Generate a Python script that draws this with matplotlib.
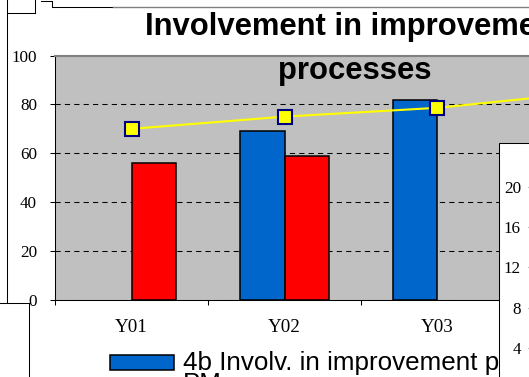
import numpy as np
import matplotlib
matplotlib.use("Agg")
import matplotlib.pyplot as plt
from matplotlib.lines import Line2D
from matplotlib.patches import Rectangle
from matplotlib.transforms import Bbox

# ---- data -------------------------------------------------------------
categories = ["Y01", "Y02", "Y03", "Y04"]
pm_values = [np.nan, 69, 82, np.nan]          # blue bars
other_values = [56, 59, np.nan, np.nan]       # red bars
target_values = [70, 75, 78.6, 85]            # yellow line
y_ticks = [0, 20, 40, 60, 80, 100]
side_ticks = [4, 8, 12, 16, 20]
title = "Involvement in improvement\nprocesses"
legend_label = "4b Involv. in improvement processes -\nPM"

# ---- style ------------------------------------------------------------
W, H = 529, 377
BLUE = "#0066CC"
RED = "#FF0000"
YELLOW = "#FFFF00"
NAVY = "#000080"
PLOT_BG = "#C0C0C0"
SANS = "Liberation Sans"
SERIF = "Liberation Serif"


def fx(px):
    return px / W


def fy(py):
    return 1 - py / H


def pt(px):
    return px * 72 / 100


fig = plt.figure(figsize=(W / 100, H / 100), dpi=100)
fig.patch.set_facecolor("white")

# ---- main chart -------------------------------------------------------
ax = fig.add_axes([fx(55), fy(300), 612 / W, 244.5 / H], zorder=1)
ax.set_facecolor(PLOT_BG)
x = np.arange(len(categories))
bw = 0.29
ax.bar(x - bw / 2, pm_values, bw, color=BLUE, edgecolor="black",
       linewidth=1.1, zorder=2)
ax.bar(x + bw / 2, other_values, bw, color=RED, edgecolor="black",
       linewidth=1.1, zorder=2)
ax.plot(x, target_values, color=YELLOW, lw=1.5, marker="s", ms=10,
        mfc=YELLOW, mec=NAVY, mew=1.5, zorder=3, clip_on=False)

ax.set_xlim(-0.5, len(categories) - 0.5)
ax.set_ylim(0, 100)
ax.set_axisbelow(True)
ax.yaxis.grid(True, color="black", linestyle=(0, (5, 4)), lw=0.75)
ax.set_yticks(y_ticks)
ax.set_yticklabels([str(v) for v in y_ticks], family=SERIF,
                   fontsize=pt(17))
ax.tick_params(axis="y", direction="out", length=pt(5), width=0.75,
               pad=pt(13), colors="black")

ax.set_xticks(np.arange(len(categories) + 1) - 0.5)
ax.set_xticklabels([])
ax.set_xticks(x, minor=True)
ax.set_xticklabels(categories, minor=True, family=SERIF, fontsize=pt(19))
ax.tick_params(axis="x", which="major", direction="out", length=pt(5),
               width=0.75)
ax.tick_params(axis="x", which="minor", length=0, pad=pt(18.5))

for side in ("left", "bottom"):
    ax.spines[side].set_color("black")
    ax.spines[side].set_linewidth(0.75)
ax.spines["top"].set_color("#808080")
ax.spines["top"].set_linewidth(1.5)
ax.spines["right"].set_visible(False)

# ---- title ------------------------------------------------------------
fig.text(fx(355), fy(12.4), title, ha="center", va="top", family=SANS,
         fontweight="bold", fontsize=pt(31), linespacing=1.59,
         multialignment="center", zorder=4)

# ---- legend (first entry) ---------------------------------------------
fig.add_artist(Rectangle((fx(110), fy(370)), 64 / W, 15 / H,
                         transform=fig.transFigure, facecolor=BLUE,
                         edgecolor="black", lw=1.1, zorder=3))
leg_text = fig.text(fx(183), fy(351), legend_label, ha="left", va="top",
                    family=SANS, fontsize=pt(26), linespacing=0.85,
                    zorder=3)
leg_text.set_clip_box(Bbox.from_extents(0, 0, 499, H))
leg_text.set_clip_on(True)

# ---- surrounding frame lines ------------------------------------------
frame_segments = [
    ((7, 0), (7, 302.7)),
    ((7, 13), (35, 13)),
    ((35, 0), (35, 13)),
    ((41, 1), (52, 1)),
    ((52, 1), (52, 7)),
    ((0, 302.7), (29, 302.7)),
    ((29, 302.7), (29, 377)),
]
for (x0, y0), (x1, y1) in frame_segments:
    fig.add_artist(Line2D([fx(x0), fx(x1)], [fy(y0), fy(y1)],
                          transform=fig.transFigure, color="black",
                          lw=0.75, zorder=2))
fig.add_artist(Line2D([fx(52), fx(113)], [fy(7), fy(7)],
                      transform=fig.transFigure, color="black", lw=0.75,
                      zorder=2))
fig.add_artist(Line2D([fx(113), fx(529)], [fy(7), fy(7)],
                      transform=fig.transFigure, color="#808080", lw=1.0,
                      zorder=2))

# ---- overlapping side chart -------------------------------------------
fig.add_artist(Rectangle((fx(499), fy(400)), 60 / W, (400 - 143) / H,
                         transform=fig.transFigure, facecolor="white",
                         edgecolor="black", lw=0.75, zorder=5))
ax2 = fig.add_axes([fx(531), fy(388.3), 0.2, (388.3 - 146.4) / H], zorder=6)
ax2.patch.set_visible(False)
for s in ax2.spines.values():
    s.set_visible(False)
ax2.set_ylim(0, 24)
ax2.set_yticks(side_ticks)
ax2.set_yticklabels([str(v) for v in side_ticks], family=SERIF,
                    fontsize=pt(17))
ax2.tick_params(axis="y", direction="out", length=pt(3), color="#808080",
                pad=pt(7))
ax2.set_xticks([])

fig.savefig("out.png", dpi=100)
